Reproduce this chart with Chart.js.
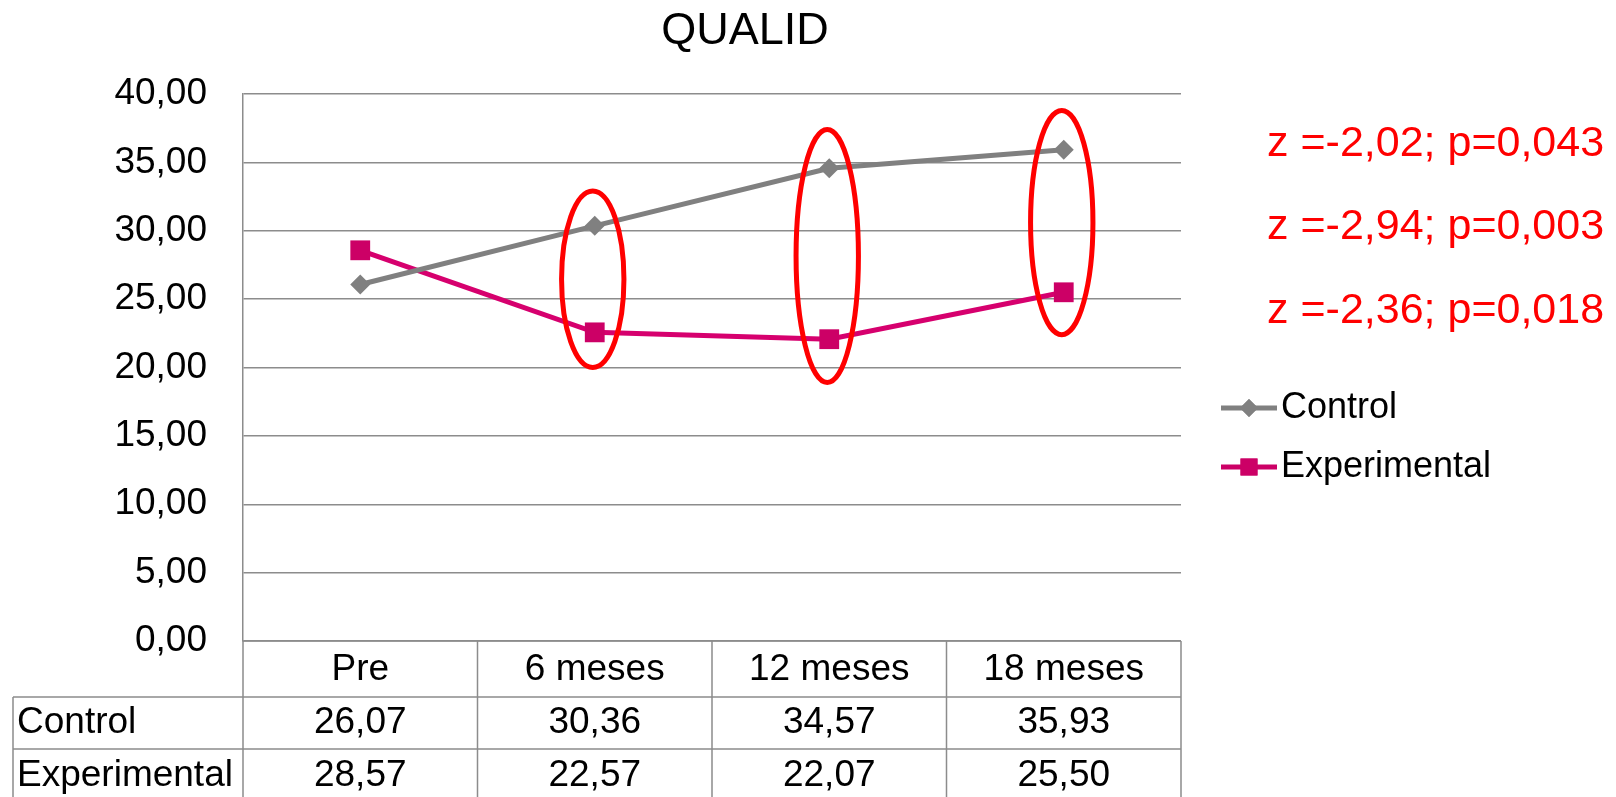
<!DOCTYPE html>
<html>
<head>
<meta charset="utf-8">
<script src="https://cdn.jsdelivr.net/npm/chart.js@4"></script>
<style>
  html, body { margin: 0; padding: 0; background: #fff; }
  #wrap { width: 1616px; height: 797px; }
</style>
</head>
<body>
<div id="wrap"><canvas id="lineChart" width="1616" height="797"></canvas></div>
<script>
const categories = ['Pre', '6 meses', '12 meses', '18 meses'];
const controlValues = [26.07, 30.36, 34.57, 35.93];
const experimentalValues = [28.57, 22.57, 22.07, 25.50];
const yTicks = [0, 5, 10, 15, 20, 25, 30, 35, 40];
const statLabels = ['z =-2,02; p=0,043', 'z =-2,94; p=0,003', 'z =-2,36; p=0,018'];
// circled points: category index, low and high value of the ellipse
const circledIdx = [1, 2, 3];
const circledLow = [20.0, 18.9, 22.4];
const circledHigh = [32.9, 37.4, 38.8];

const FONT = "'Liberation Sans', Arial, sans-serif";
const GRAY = '#808080';
const PINK = '#CC0066';
const fmt = v => v.toFixed(2).replace('.', ',');

const extras = {
  id: 'extras',
  afterDraw(chart) {
    const ctx = chart.ctx;
    const x = chart.scales.x, y = chart.scales.y;
    const area = chart.chartArea;
    const colW = (area.right - area.left) / categories.length;

    ctx.save();
    // title
    ctx.fillStyle = '#000';
    ctx.font = '45px ' + FONT;
    ctx.textAlign = 'center';
    ctx.textBaseline = 'middle';
    ctx.fillText('QUALID', 745, 32);

    // ellipses
    ctx.strokeStyle = '#FF0000';
    ctx.lineWidth = 5;
    circledIdx.forEach((ci, i) => {
      const cx = x.getPixelForValue(ci);
      const top = y.getPixelForValue(circledHigh[i]);
      const bot = y.getPixelForValue(circledLow[i]);
      ctx.beginPath();
      ctx.ellipse(cx - 2, (top + bot) / 2, colW * 0.133, (bot - top) / 2, 0, 0, Math.PI * 2);
      ctx.stroke();
    });

    // stats text
    ctx.fillStyle = '#FF0000';
    ctx.font = '43px ' + FONT;
    ctx.textAlign = 'left';
    ctx.textBaseline = 'middle';
    statLabels.forEach((t, i) => {
      ctx.fillText(t, area.right + 86, area.top + 50 + i * 83.5);
    });

    // legend
    const series = [
      { name: 'Control', color: GRAY, style: 'rectRot', r: 9, lw: 5 },
      { name: 'Experimental', color: PINK, style: 'rect', r: 12, lw: 5 }
    ];
    series.forEach((s, i) => {
      const ly = 408 + i * 59;
      ctx.strokeStyle = s.color;
      ctx.lineWidth = s.lw;
      ctx.beginPath();
      ctx.moveTo(area.right + 40, ly);
      ctx.lineTo(area.right + 96, ly);
      ctx.stroke();
      ctx.fillStyle = s.color;
      Chart.helpers.drawPoint(ctx, { pointStyle: s.style, radius: s.r, borderWidth: 0 }, area.right + 68, ly);
      ctx.fill();
      ctx.fillStyle = '#000';
      ctx.font = '36px ' + FONT;
      ctx.fillText(s.name, area.right + 100, ly);
    });

    // data table
    const rowH = [56, 52, 52];
    const r0 = area.bottom, r1 = r0 + rowH[0], r2 = r1 + rowH[1], r3 = r2 + rowH[2];
    const tableLeft = 13;
    ctx.strokeStyle = '#8c8c8c';
    ctx.lineWidth = 1.5;
    ctx.beginPath();
    // verticals
    for (let i = 0; i <= categories.length; i++) {
      const vx = area.left + i * colW;
      ctx.moveTo(vx, r0);
      ctx.lineTo(vx, r3);
    }
    ctx.moveTo(tableLeft, r1);
    ctx.lineTo(tableLeft, r3);
    // horizontals
    ctx.moveTo(area.left, r0);
    ctx.lineTo(area.right, r0);
    ctx.moveTo(tableLeft, r1);
    ctx.lineTo(area.right, r1);
    ctx.moveTo(tableLeft, r2);
    ctx.lineTo(area.right, r2);
    ctx.stroke();

    ctx.fillStyle = '#000';
    ctx.font = '37px ' + FONT;
    ctx.textBaseline = 'middle';
    ctx.textAlign = 'center';
    categories.forEach((c, i) => {
      const cx = x.getPixelForValue(i);
      ctx.fillText(c, cx, r0 + 29);
      ctx.fillText(fmt(controlValues[i]), cx, r1 + 26);
      ctx.fillText(fmt(experimentalValues[i]), cx, r2 + 27);
    });
    ctx.textAlign = 'left';
    ctx.fillText('Control', 17, r1 + 26);
    ctx.fillText('Experimental', 17, r2 + 27);
    ctx.restore();
  }
};

new Chart(document.getElementById('lineChart'), {
  type: 'line',
  data: {
    labels: categories,
    datasets: [
      {
        label: 'Control',
        data: controlValues,
        borderColor: GRAY,
        backgroundColor: GRAY,
        borderWidth: 5,
        pointStyle: 'rectRot',
        pointRadius: 10,
        pointBorderWidth: 0,
        tension: 0
      },
      {
        label: 'Experimental',
        data: experimentalValues,
        borderColor: '#D6006E',
        backgroundColor: PINK,
        borderWidth: 5,
        pointStyle: 'rect',
        pointRadius: 14,
        pointBorderWidth: 0,
        tension: 0
      }
    ]
  },
  options: {
    responsive: false,
    animation: false,
    events: [],
    layout: { padding: { top: 94, right: 435, bottom: 156, left: 0 } },
    plugins: {
      legend: { display: false },
      title: { display: false },
      tooltip: { enabled: false }
    },
    scales: {
      x: {
        display: false,
        offset: true
      },
      y: {
        min: 0,
        max: 40,
        afterBuildTicks(scale) { scale.ticks = yTicks.map(v => ({ value: v })); },
        afterFit(scale) { scale.width = 243; },
        grid: { color: '#8c8c8c', lineWidth: 1.5, drawTicks: false },
        border: { color: '#8c8c8c', width: 1.5 },
        ticks: {
          padding: 36,
          color: '#000',
          font: { family: FONT, size: 37 },
          callback: v => fmt(v)
        }
      }
    }
  },
  plugins: [extras]
});
</script>
</body>
</html>
